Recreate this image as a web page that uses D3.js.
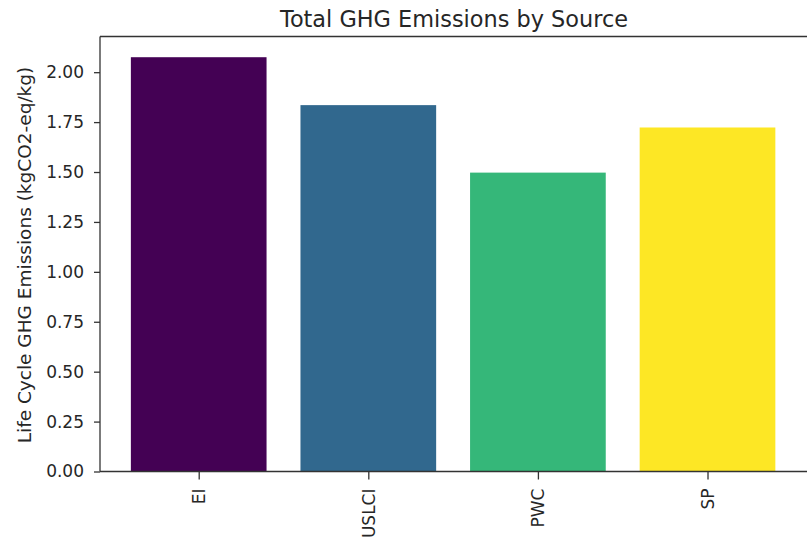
<!DOCTYPE html>
<html><head><meta charset="utf-8">
<script src="https://cdn.jsdelivr.net/npm/d3@7"></script>
<style>body{margin:0;background:#fff}svg{display:block}text{font-family:"DejaVu Sans",sans-serif;fill:#262626}</style>
</head><body><svg id="c" width="807" height="545"></svg>
<script>
const categories = ["EI", "USLCI", "PWC", "SP"];
const values = [2.075, 1.835, 1.497, 1.723];
const colors = ["#440154", "#31688e", "#35b779", "#fde725"];
const yTicks = [0, 0.25, 0.5, 0.75, 1.0, 1.25, 1.5, 1.75, 2.0];

const svg = d3.select("#c");
const L = 100, T = 36.5, B = 471.5, step = 169.6;
const n = categories.length;
const x0 = -0.582, x1 = n - 1 + 0.6;
const R = L + (x1 - x0) * step;
const x = d3.scaleLinear().domain([x0, x1]).range([L, R]);
const y = d3.scaleLinear().domain([0, d3.max(values) * 1.05]).range([B, T]);

svg.selectAll("rect.bar").data(values).enter().append("rect")
  .attr("class", "bar")
  .attr("x", (d, i) => x(i - 0.4))
  .attr("width", (d, i) => x(i + 0.4) - x(i - 0.4))
  .attr("y", d => y(d))
  .attr("height", d => y(0) - y(d))
  .attr("fill", (d, i) => colors[i]);

const tickFont = "17px";
const yAxis = d3.axisLeft(y).tickValues(yTicks).tickFormat(d3.format(".2f")).tickSize(6).tickPadding(10);
const gy = svg.append("g").attr("transform", `translate(${L},0)`).call(yAxis);
gy.select(".domain").remove();
gy.selectAll("line").attr("stroke", "#333").attr("stroke-width", 1.3);
gy.selectAll("text").style("font-size", tickFont).attr("fill", "#262626");

const xAxis = d3.axisBottom(x).tickValues(d3.range(n)).tickFormat(i => categories[i]).tickSize(8).tickPadding(8);
const gx = svg.append("g").attr("transform", `translate(0,${B})`).call(xAxis);
gx.select(".domain").remove();
gx.selectAll("line").attr("stroke", "#333").attr("stroke-width", 1.3);
gx.selectAll("text").style("font-size", tickFont)
  .attr("transform", "rotate(-90)")
  .attr("text-anchor", "end")
  .attr("x", -17).attr("y", 0).attr("dy", "0.35em");

// spines
const sp = [[L, T, L, B], [L, B, R, B], [L, T, R, T], [R, T, R, B]];
svg.selectAll("line.spine").data(sp).enter().append("line").attr("class", "spine")
  .attr("x1", d => d[0]).attr("y1", d => d[1]).attr("x2", d => d[2]).attr("y2", d => d[3])
  .attr("stroke", "#333").attr("stroke-width", 1.3);

svg.append("text").attr("x", 454).attr("y", 26.5).attr("text-anchor", "middle")
  .style("font-size", "22.4px").text("Total GHG Emissions by Source");

svg.append("text").attr("transform", `translate(31,${(T + B) / 2 + 1}) rotate(-90)`)
  .attr("text-anchor", "middle").style("font-size", "18.5px")
  .text("Life Cycle GHG Emissions (kgCO2-eq/kg)");
</script></body></html>
